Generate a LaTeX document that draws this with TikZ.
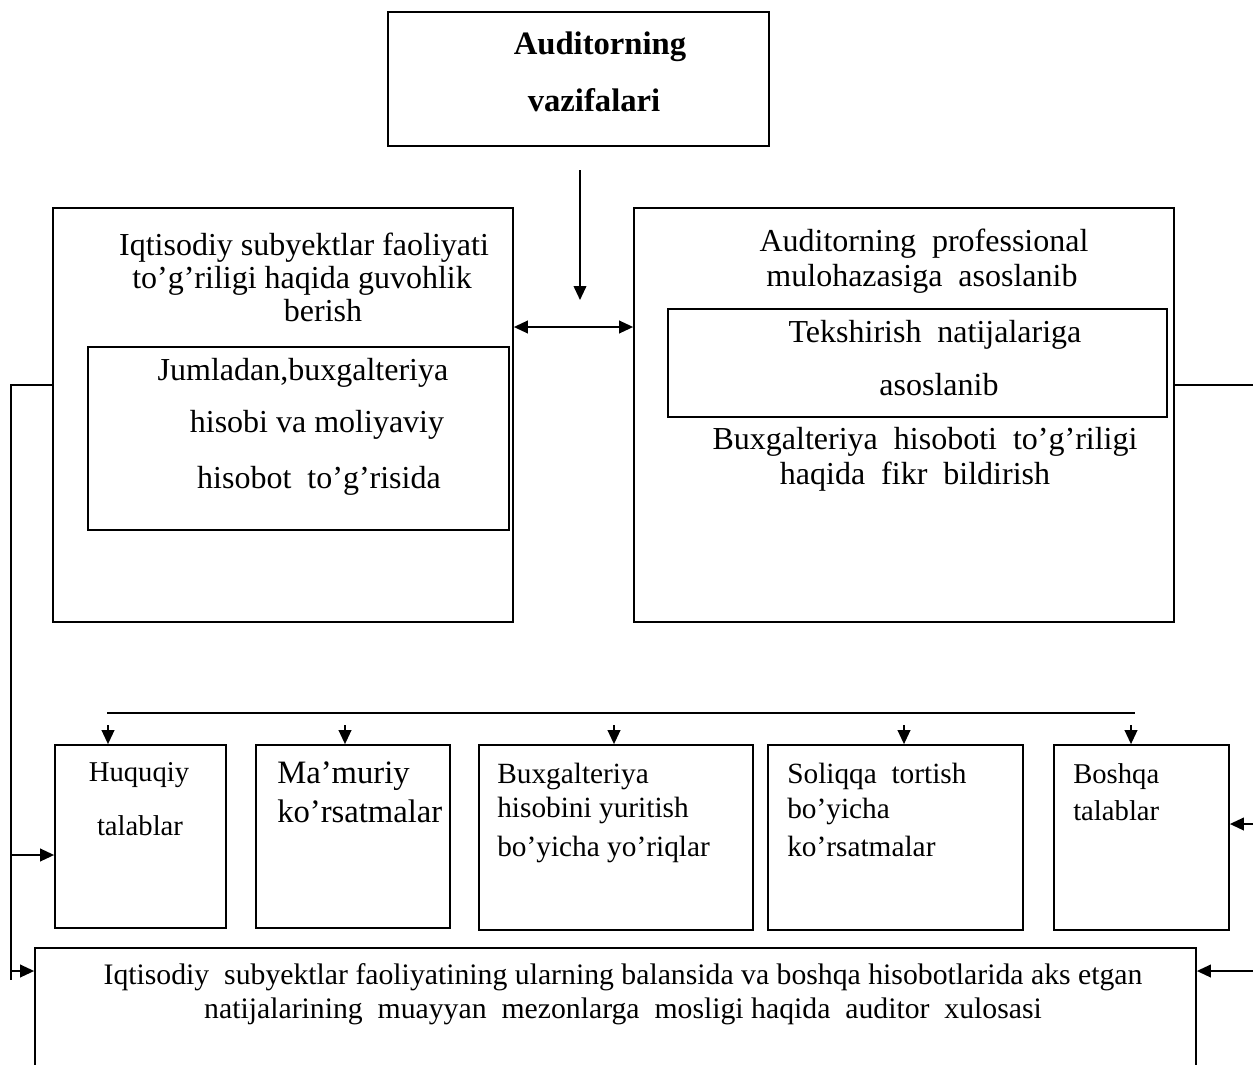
\documentclass[tikz,border=0pt]{standalone}
\usepackage{fontspec}
\setmainfont{Liberation Serif}
\usetikzlibrary{arrows.meta,fit}
\begin{document}
\begin{tikzpicture}[x=0.75pt,y=-0.75pt,
  box/.style={draw,line width=1.3pt,inner sep=0pt},
  txt/.style={inner sep=0pt,anchor=base,font=\fontsize{24}{28}\selectfont},
  txtl/.style={inner sep=0pt,anchor=base west,font=\fontsize{22}{26}\selectfont},
  ln/.style={line width=1.3pt},
  arr/.style={line width=1.3pt,-{Triangle[length=10.5pt,width=9.5pt]}},
  arrb/.style={line width=1.3pt,{Triangle[length=10.5pt,width=9.5pt]}-{Triangle[length=10.5pt,width=9.5pt]}}]
\path[use as bounding box,clip] (0,0) rectangle (1253,1064);
% boxes
\node[box,fit={(388,12) (769,146)}] (top) {};
\node[box,fit={(53,208) (513,622)}] (lbox) {};
\node[box,fit={(88,347) (509,530)}] (libox) {};
\node[box,fit={(634,208) (1174,622)}] (rbox) {};
\node[box,fit={(668,309) (1167,417)}] (ribox) {};
\node[box,fit={(55,745) (226,928)}] (huq) {};
\node[box,fit={(256,745) (450,928)}] (mam) {};
\node[box,fit={(479,745) (753,930)}] (bux) {};
\node[box,fit={(768,745) (1023,930)}] (sol) {};
\node[box,fit={(1054,745) (1229,930)}] (bosh) {};
\node[box,fit={(35,948) (1196,1120)}] (bot) {};
% texts
\node[txt,font=\fontsize{24.5}{28}\selectfont\bfseries] (t1) at (600,54) {Auditorning};
\node[txt,font=\fontsize{24.5}{28}\selectfont\bfseries] (t2) at (594,111) {vazifalari};
\node[txt] (l1) at (304,255) {Iqtisodiy subyektlar faoliyati};
\node[txt] (l2) at (302,288) {to’g’riligi haqida guvohlik};
\node[txt] (l3) at (323,321) {berish};
\node[txt] (li1) at (303,380) {Jumladan,buxgalteriya};
\node[txt] (li2) at (317,432) {hisobi va moliyaviy};
\node[txt] (li3) at (319,488) {hisobot\ \ to’g’risida};
\node[txt] (r1) at (924,251) {Auditorning\ \ professional};
\node[txt] (r2) at (922,286) {mulohazasiga\ \ asoslanib};
\node[txt] (ri1) at (935,342) {Tekshirish\ \ natijalariga};
\node[txt] (ri2) at (939,395) {asoslanib};
\node[txt] (r3) at (925,449) {Buxgalteriya\ \ hisoboti\ \ to’g’riligi};
\node[txt] (r4) at (915,484) {haqida\ \ fikr\ \ bildirish};
\node[txt,font=\fontsize{21.5}{26}\selectfont] (h1) at (139,781) {Huquqiy};
\node[txt,font=\fontsize{21.5}{26}\selectfont] (h2) at (140,835) {talablar};
\node[txtl,font=\fontsize{24.5}{28}\selectfont] (m1) at (277,783) {Ma’muriy};
\node[txtl,font=\fontsize{24.5}{28}\selectfont] (m2) at (277,822) {ko’rsatmalar};
\node[txtl] (b1) at (497,783) {Buxgalteriya};
\node[txtl] (b2) at (497,817) {hisobini yuritish};
\node[txtl] (b3) at (497,856) {bo’yicha yo’riqlar};
\node[txtl] (s1) at (787,783) {Soliqqa\ \ tortish};
\node[txtl] (s2) at (787,818) {bo’yicha};
\node[txtl] (s3) at (787,856) {ko’rsatmalar};
\node[txtl,font=\fontsize{21.5}{26}\selectfont] (o1) at (1073,783) {Boshqa};
\node[txtl,font=\fontsize{21.5}{26}\selectfont] (o2) at (1073,820) {talablar};
\node[txt,font=\fontsize{22.3}{26}\selectfont] (n1) at (623,984) {Iqtisodiy\ \ subyektlar faoliyatining ularning balansida va boshqa hisobotlarida aks etgan};
\node[txt,font=\fontsize{22.3}{26}\selectfont] (n2) at (623,1018) {natijalarining\ \ muayyan\ \ mezonlarga\ \ mosligi haqida\ \ auditor\ \ xulosasi};
% connectors
\coordinate (d1) at (580,170);
\coordinate (d2) at (580,300);
\draw[arr] (d1) -- (d2);
\coordinate (D) at (0,327);
\draw[arrb] (D -| lbox.east) -- (D -| rbox.west);
\coordinate (La) at (11,385);
\coordinate (Lb) at (11,980);
\draw[ln] (La -| lbox.west) -- (La) -- (Lb);
\coordinate (Lc) at (11,855);
\draw[arr] (Lc) -- (Lc -| huq.west);
\coordinate (Ld) at (11,971);
\draw[arr] (Ld) -- (Ld -| bot.west);
\coordinate (Ra) at (1253,385);
\draw[ln] (Ra -| rbox.east) -- (Ra);
\coordinate (Rb) at (1253,824);
\draw[arr] (Rb) -- (Rb -| bosh.east);
\coordinate (Rc) at (1253,971);
\draw[arr] (Rc) -- (Rc -| bot.east);
\coordinate (B1) at (107,713);
\coordinate (B2) at (1135,713);
\draw[ln] (B1) -- (B2);
\coordinate (a1) at (108,725);
\coordinate (a2) at (345,725);
\coordinate (a3) at (614,725);
\coordinate (a4) at (904,725);
\coordinate (a5) at (1131,725);
\draw[arr] (a1) -- (a1 |- huq.north);
\draw[arr] (a2) -- (a2 |- mam.north);
\draw[arr] (a3) -- (a3 |- bux.north);
\draw[arr] (a4) -- (a4 |- sol.north);
\draw[arr] (a5) -- (a5 |- bosh.north);
\end{tikzpicture}
\end{document}
